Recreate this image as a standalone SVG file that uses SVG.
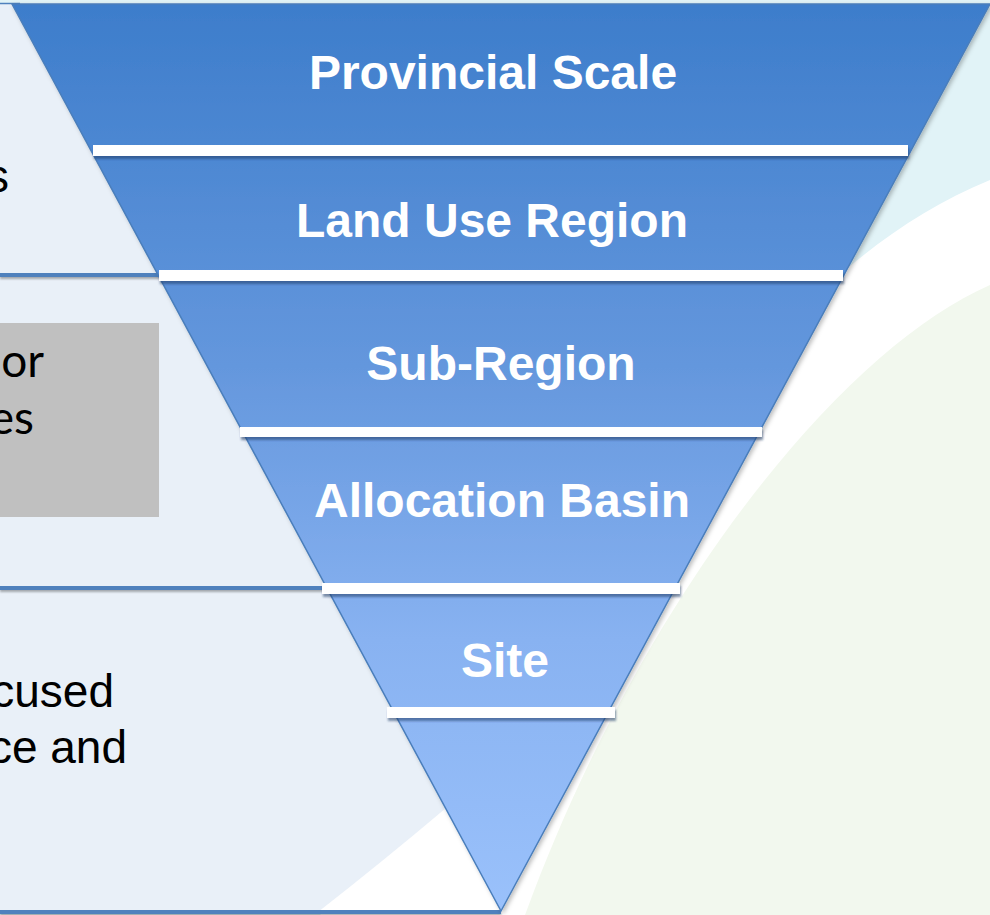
<svg xmlns="http://www.w3.org/2000/svg" width="990" height="915" viewBox="0 0 990 915">
  <style>
    .panel { fill: #e9f0f8; }
    .divider { stroke: #4f81bd; stroke-width: 4; fill: none; }
    .arial { font-family: "Liberation Sans", Arial, sans-serif; font-size: 46px; fill: #000; }
    .calibri { font-family: Lato, "Open Sans", sans-serif; font-size: 46px; fill: #000; }
    .label { font-family: "Liberation Sans", Arial, sans-serif; font-weight: bold; font-size: 48px; fill: #ffffff; text-anchor: middle; }
    .bar { fill: #ffffff; filter: url(#barShadow); }
  </style>
  <defs>
    <linearGradient id="funnelGrad" gradientUnits="userSpaceOnUse" x1="0" y1="4" x2="0" y2="911">
      <stop offset="0" stop-color="#3d7dcb"/>
      <stop offset="0.4" stop-color="#6497dd"/>
      <stop offset="0.7" stop-color="#88b2f1"/>
      <stop offset="1" stop-color="#9ac1fb"/>
    </linearGradient>
    <filter id="barShadow" x="-5%" y="-50%" width="110%" height="250%">
      <feDropShadow dx="1" dy="3" stdDeviation="1.2" flood-color="#1d3b66" flood-opacity="0.55"/>
    </filter>
    <filter id="triShadow" x="-5%" y="-5%" width="110%" height="110%">
      <feDropShadow dx="2" dy="2" stdDeviation="2" flood-color="#000000" flood-opacity="0.25"/>
    </filter>
    <filter id="lineShadow" x="-5%" y="-100%" width="110%" height="400%">
      <feDropShadow dx="0" dy="2" stdDeviation="1.2" flood-color="#000000" flood-opacity="0.3"/>
    </filter>
  </defs>

  <!-- background -->
  <g id="background">
    <rect x="0" y="0" width="990" height="915" fill="#e1f3f7"/>
    <path d="M990,180 C690,303 570,715 320,915 L990,915 Z" fill="#ffffff"/>
    <path d="M990,285 C840,350 640,600 525,915 L990,915 Z" fill="#f2f8ee"/>
  </g>

  <!-- left panels -->
  <g id="panel-1">
    <rect class="panel" x="0" y="3" width="500" height="272"/>
    <line x1="0" y1="3.5" x2="20" y2="3.5" stroke="#4f81bd" stroke-width="1.5"/>
    <text class="arial" x="9" y="192" text-anchor="end">s</text>
  </g>
  <g id="panel-2">
    <rect class="panel" x="0" y="275" width="500" height="313"/>
    <rect x="0" y="323" width="159" height="194" fill="#c0c0c0"/>
    <text class="calibri" x="44" y="377" text-anchor="end">or</text>
    <text class="calibri" x="34" y="434" text-anchor="end">es</text>
  </g>
  <g id="panel-3">
    <rect class="panel" x="0" y="588" width="500" height="324"/>
    <path d="M318,912 Q382,862 446,808 L501,911 Z" fill="#ffffff"/>
    <text class="arial" x="114" y="707" text-anchor="end">cused</text>
    <text class="arial" x="127" y="763" text-anchor="end">ce and</text>
  </g>
  <g id="panel-dividers" filter="url(#lineShadow)">
    <line class="divider" x1="0" y1="275" x2="160" y2="275"/>
    <line class="divider" x1="0" y1="588" x2="327" y2="588"/>
    <line class="divider" x1="0" y1="912" x2="501" y2="912"/>
  </g>

  <!-- funnel -->
  <g id="funnel">
    <polygon points="12,4 990,4 501,911" fill="url(#funnelGrad)" stroke="#4a7ebb" stroke-width="1.5" filter="url(#triShadow)"/>
    <rect class="bar" x="93" y="145" width="815" height="11"/>
    <rect class="bar" x="159" y="270" width="684" height="11"/>
    <rect class="bar" x="240" y="427" width="522" height="10"/>
    <rect class="bar" x="322" y="583" width="358" height="11"/>
    <rect class="bar" x="387" y="707" width="228" height="11"/>
  </g>

  <g id="level-provincial"><text class="label" x="493" y="89">Provincial Scale</text></g>
  <g id="level-land-use-region"><text class="label" x="492" y="237">Land Use Region</text></g>
  <g id="level-sub-region"><text class="label" x="501" y="380">Sub-Region</text></g>
  <g id="level-allocation-basin"><text class="label" x="502" y="517">Allocation Basin</text></g>
  <g id="level-site"><text class="label" x="505" y="677">Site</text></g>
</svg>
